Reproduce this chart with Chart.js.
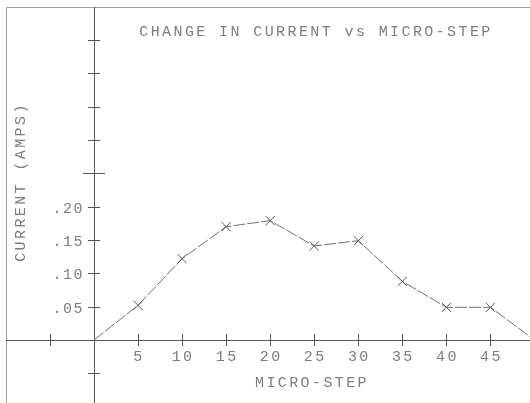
<!DOCTYPE html>
<html>
<head>
<meta charset="utf-8">
<script src="https://cdn.jsdelivr.net/npm/chart.js@4"></script>
<style>
  html, body { margin: 0; padding: 0; background: #fff; }
  canvas { display: block; }
</style>
</head>
<body>
<canvas id="c" width="530" height="403"></canvas>
<script>
// ---- data ----
const microSteps = [0, 5, 10, 15, 20, 25, 30, 35, 40, 45, 50];
const currentAmps = [0, 0.052, 0.122, 0.170, 0.179, 0.141, 0.149, 0.088, 0.049, 0.049, 0];
const xTickValues = [-5, 5, 10, 15, 20, 25, 30, 35, 40, 45];
const xTickLabels = ['5', '10', '15', '20', '25', '30', '35', '40', '45'];
const xLabelValues = [5, 10, 15, 20, 25, 30, 35, 40, 45];
const yTickValues = [-0.05, 0.05, 0.10, 0.15, 0.20, 0.25, 0.30, 0.35, 0.40, 0.45];
const yLabelValues = [0.05, 0.10, 0.15, 0.20];
const yTickLabels = ['.05', '.10', '.15', '.20'];
const chartTitle = 'CHANGE IN CURRENT vs MICRO-STEP';
const xTitle = 'MICRO-STEP';
const yTitle = 'CURRENT (AMPS)';

const TEXT = '#7d7d7d';
const LINE = '#555';
const FONT = '15px "Liberation Mono", "DejaVu Sans Mono", monospace';

const plotterAxes = {
  id: 'plotterAxes',
  beforeDatasetsDraw(chart) {
    const ctx = chart.ctx;
    const xs = chart.scales.x, ys = chart.scales.y;
    const x0 = xs.getPixelForValue(0), y0 = ys.getPixelForValue(0);
    ctx.save();
    ctx.lineWidth = 1;
    // paper frame
    ctx.beginPath();
    ctx.moveTo(6.5, 403); ctx.lineTo(6.5, 7.5); ctx.lineTo(530, 7.5);
    ctx.strokeStyle = '#a0a0a0';
    ctx.stroke();
    ctx.strokeStyle = LINE;
    // axes
    ctx.beginPath();
    ctx.moveTo(6, Math.round(y0) + 0.5); ctx.lineTo(530, Math.round(y0) + 0.5);
    ctx.moveTo(Math.round(x0) + 0.5, 7); ctx.lineTo(Math.round(x0) + 0.5, 403);
    ctx.stroke();
    // ticks
    ctx.beginPath();
    xTickValues.forEach(v => {
      const px = Math.round(xs.getPixelForValue(v)) + 0.5;
      ctx.moveTo(px, y0 - 6); ctx.lineTo(px, y0 + 6);
    });
    yTickValues.forEach(v => {
      const py = Math.round(ys.getPixelForValue(v)) + 0.5;
      const len = Math.abs(v - 0.25) < 1e-9 ? 11 : 6;
      ctx.moveTo(x0 - len, py); ctx.lineTo(x0 + len, py);
    });
    ctx.stroke();

    // text
    ctx.fillStyle = TEXT;
    ctx.font = FONT;
    ctx.textBaseline = 'middle';
    ctx.letterSpacing = '2.4px';
    ctx.textAlign = 'center';
    ctx.fillText(chartTitle, 316, 32);
    ctx.fillText(xTitle, 312, 383);
    xLabelValues.forEach((v, i) => {
      ctx.fillText(xTickLabels[i], xs.getPixelForValue(v) + 1, 357);
    });
    ctx.letterSpacing = '1.5px';
    ctx.textAlign = 'right';
    yLabelValues.forEach((v, i) => {
      ctx.fillText(yTickLabels[i], x0 - 10, ys.getPixelForValue(v) + 2);
    });
    ctx.letterSpacing = '2.4px';
    ctx.translate(21, 182);
    ctx.rotate(-Math.PI / 2);
    ctx.textAlign = 'center';
    ctx.fillText(yTitle, 0, 0);
    ctx.restore();
  }
};

new Chart(document.getElementById('c'), {
  type: 'line',
  data: {
    datasets: [{
      data: microSteps.map((s, i) => ({ x: s, y: currentAmps[i] })),
      borderColor: '#707070',
      borderWidth: 1,
      borderDash: [12, 2],
      pointStyle: 'crossRot',
      pointRadius: microSteps.map((s, i) => (i === 0 || i === microSteps.length - 1) ? 0 : 6.5),
      pointBorderColor: '#555',
      pointBorderWidth: 1,
      pointBackgroundColor: '#555',
      tension: 0
    }]
  },
  options: {
    responsive: false,
    animation: false,
    layout: { padding: 0 },
    plugins: { legend: { display: false }, tooltip: { enabled: false }, title: { display: false } },
    scales: {
      x: { type: 'linear', display: false, min: -10.67, max: 49.49 },
      y: { type: 'linear', display: false, min: -0.0945, max: 0.51 }
    }
  },
  plugins: [plotterAxes]
});
</script>
</body>
</html>
